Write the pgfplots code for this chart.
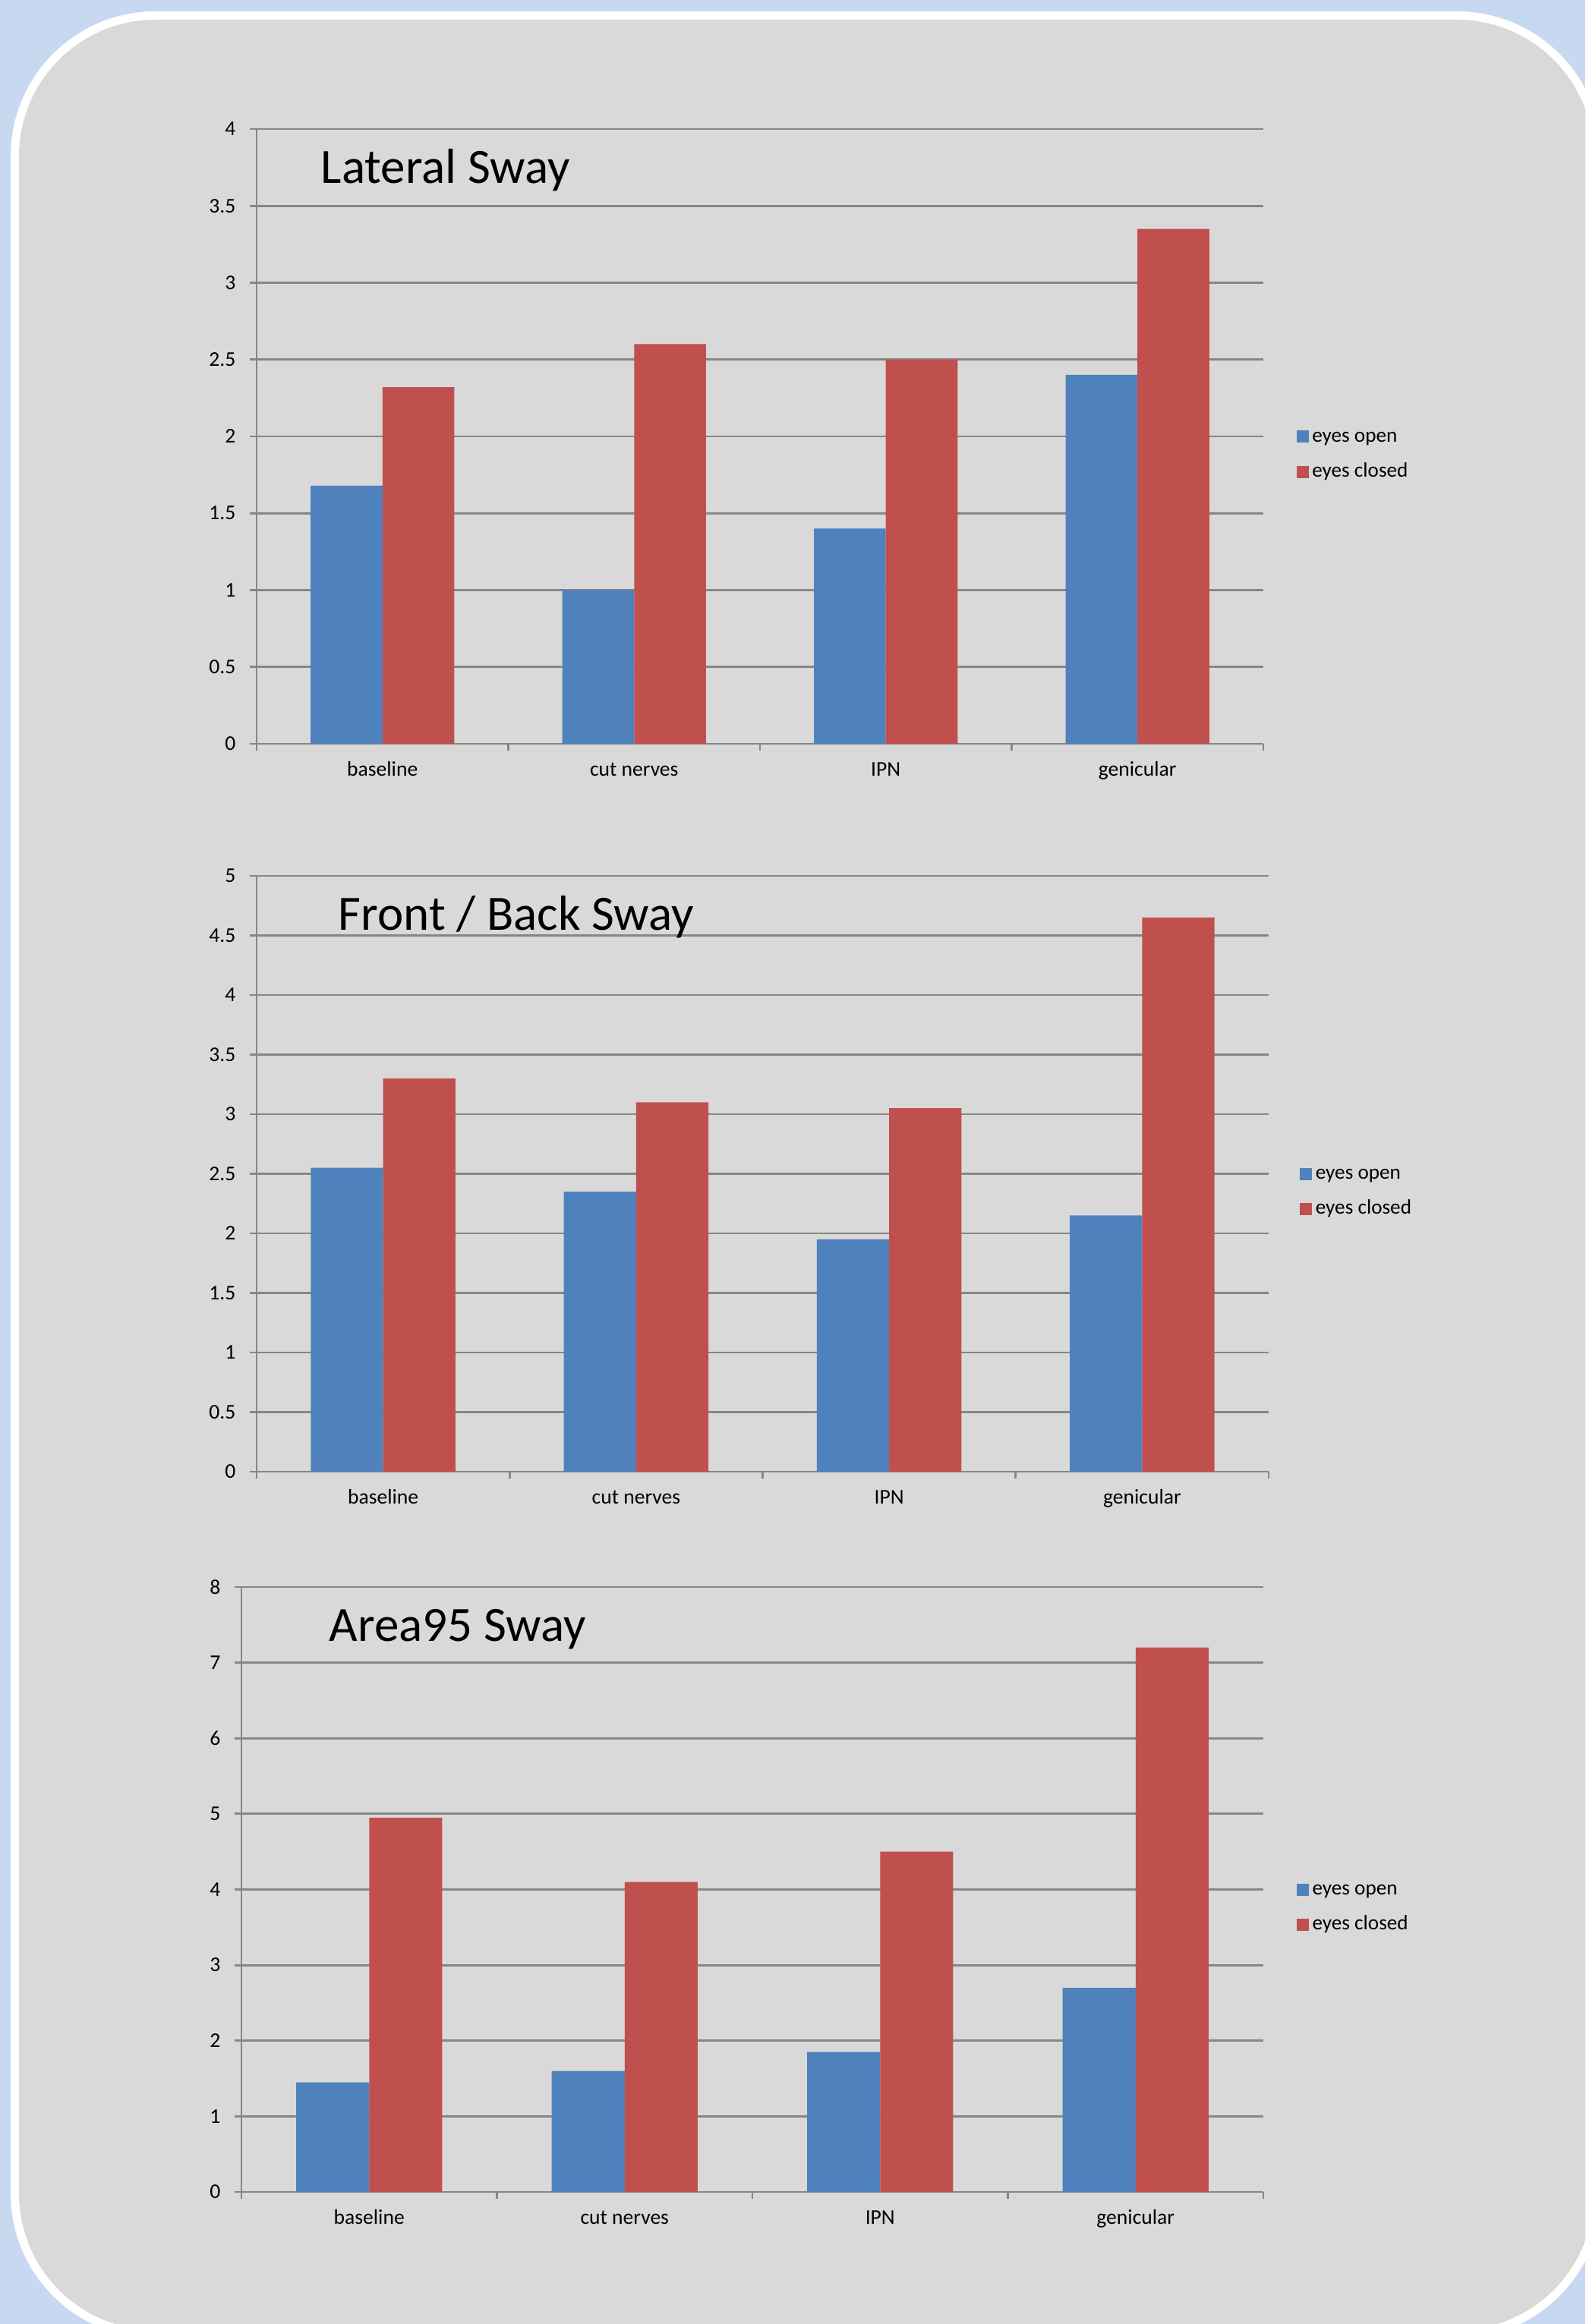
\documentclass[border=0pt]{standalone}
\usepackage{fontspec}
\setmainfont{Carlito}
\usepackage{pgfplots}
\pgfplotsset{compat=1.18}
\definecolor{bgblue}{HTML}{C6D9F1}
\definecolor{panel}{HTML}{D9D9D9}
\definecolor{xblue}{HTML}{4F81BD}
\definecolor{xred}{HTML}{C0504D}
\definecolor{gridc}{HTML}{868686}
\pgfplotsset{
  swaystyle/.style={
    scale only axis,
    ybar=0pt, bar width=0.285714,
    xmin=-0.5, xmax=3.5, ymin=0,
    axis x line*=bottom, axis y line*=left,
    axis line style={gridc, line width=0.7pt},
    ymajorgrids, grid style={gridc, line width=0.7pt},
    xtick={-0.5,0.5,1.5,2.5,3.5}, xticklabels={},
    extra x ticks={0,1,2,3},
    extra x tick labels={baseline,cut nerves,IPN,genicular},
    extra x tick style={major tick length=0pt, grid=none},
    tick align=outside, major tick length=2.2pt,
    tick style={gridc, line width=0.7pt},
    /pgf/number format/assume math mode=true,
    /pgf/number format/fixed,
    ticklabel style={font=\fontsize{6.9}{8}\selectfont, text=black},
    yticklabel style={anchor=east, inner sep=0pt, xshift=-4.5pt},
    xticklabel style={anchor=base, inner sep=0pt, yshift=-10.75pt},
    legend image code/.code={\fill[##1] (0pt,-0.3pt) rectangle (4pt,3.7pt);},
    legend style={draw=none, fill=none, inner sep=0pt, row sep=5.3pt,
      font=\fontsize{6.8}{8}\selectfont, legend cell align=left,
      /tikz/every odd column/.append style={column sep=1.1pt},
      nodes={inner sep=0pt, anchor=base west}},
  },
  openbar/.style={fill=xblue, draw=none},
  closedbar/.style={fill=xred, draw=none},
}
\begin{document}
\begin{tikzpicture}
\path[use as bounding box] (0,0) rectangle (522pt,765.5pt);
\clip (0,0) rectangle (522pt,765.5pt);
\fill[bgblue] (0,0) rectangle (522pt,765.5pt);
\fill[white, rounded corners=47.75pt] (3.5pt,-4.75pt) rectangle (527.5pt,761.75pt);
\fill[panel, rounded corners=45pt] (6.25pt,-2pt) rectangle (524.75pt,759pt);

% Chart 1: Lateral Sway
\begin{axis}[swaystyle, at={(84.5pt,520.5pt)}, anchor=south west,
  width=331.5pt, height=202.5pt, ymax=4, ytick distance=0.5,
  legend style={at={(1.0325,0.468)}, anchor=west}]
\addplot[openbar] coordinates {(0,1.68) (1,1.0) (2,1.4) (3,2.4)};
\addplot[closedbar] coordinates {(0,2.32) (1,2.6) (2,2.5) (3,3.35)};
\legend{eyes open, eyes closed}
\end{axis}

% Chart 2: Front / Back Sway
\begin{axis}[swaystyle, at={(84.5pt,280.75pt)}, anchor=south west,
  width=333.25pt, height=196.25pt, ymax=5, ytick distance=0.5,
  legend style={at={(1.0305,0.467)}, anchor=west}]
\addplot[openbar] coordinates {(0,2.55) (1,2.35) (2,1.95) (3,2.15)};
\addplot[closedbar] coordinates {(0,3.3) (1,3.1) (2,3.05) (3,4.65)};
\legend{eyes open, eyes closed}
\end{axis}

% Chart 3: Area95 Sway
\begin{axis}[swaystyle, at={(79.5pt,43.5pt)}, anchor=south west,
  width=336.5pt, height=199.25pt, ymax=8, ytick distance=1,
  legend style={at={(1.0322,0.468)}, anchor=west}]
\addplot[openbar] coordinates {(0,1.45) (1,1.6) (2,1.85) (3,2.7)};
\addplot[closedbar] coordinates {(0,4.95) (1,4.1) (2,4.5) (3,7.2)};
\legend{eyes open, eyes closed}
\end{axis}

\node[anchor=base west, inner sep=0pt, font=\fontsize{16.25}{19}\selectfont] at (105.5pt,705pt) {Lateral Sway};
\node[anchor=base west, inner sep=0pt, font=\fontsize{16.25}{19}\selectfont] at (111.25pt,459pt) {Front / Back Sway};
\node[anchor=base west, inner sep=0pt, font=\fontsize{16.25}{19}\selectfont] at (108.25pt,224.75pt) {Area95 Sway};
\end{tikzpicture}
\end{document}
